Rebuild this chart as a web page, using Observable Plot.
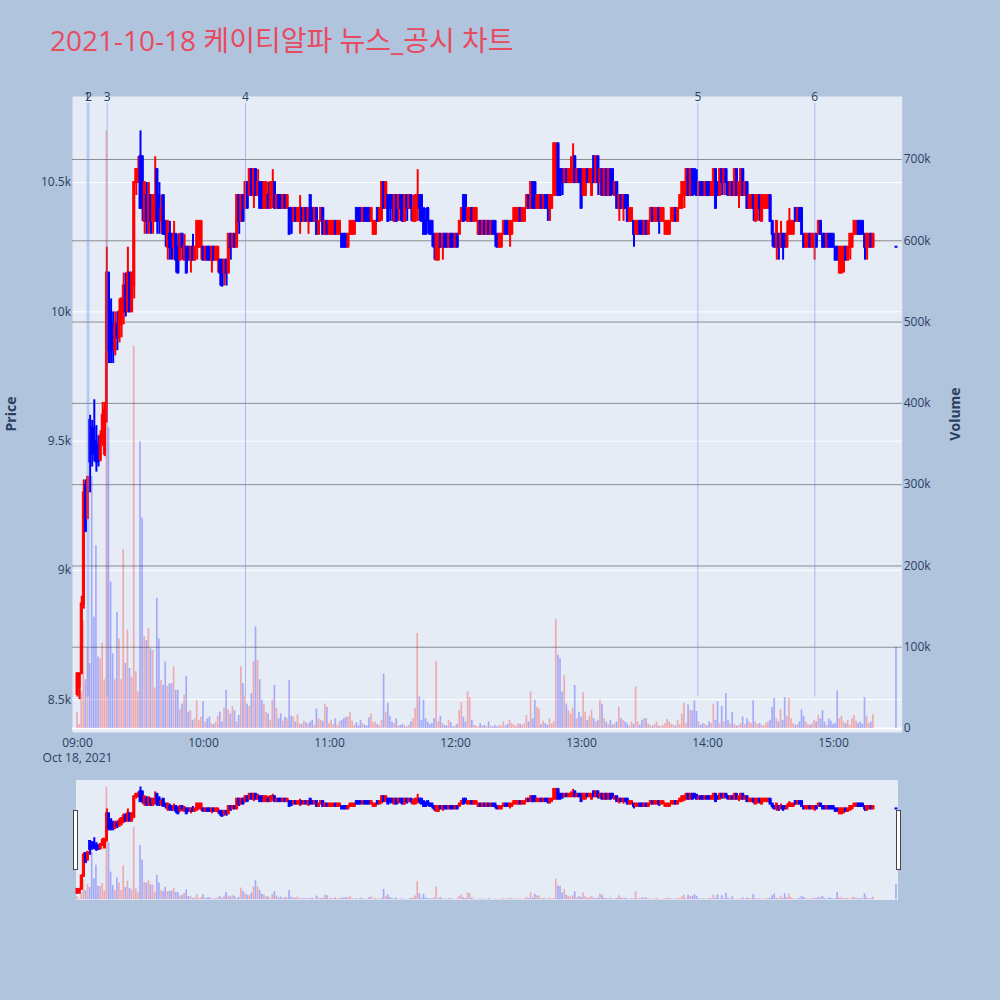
<!DOCTYPE html>
<html><head><meta charset="utf-8">
<script src="https://cdn.jsdelivr.net/npm/d3@7"></script>
<script src="https://cdn.jsdelivr.net/npm/@observablehq/plot@0.6"></script>
<style>
html,body{margin:0;padding:0;background:#b0c4de;}
#wrap{position:relative;width:1000px;height:1000px;background:#b0c4de;font-family:"Open Sans","Noto Sans CJK KR",sans-serif;overflow:hidden}
#wrap svg{position:absolute;left:0;}
.title{position:absolute;left:50px;top:22px;font-size:28px;line-height:36px;color:#e84a5f;white-space:nowrap}
.ytitle{position:absolute;font-weight:bold;font-size:14px;color:#2a3f5f;white-space:nowrap;transform:translate(-50%,-50%) rotate(-90deg);}
.rsbg{position:absolute;left:76px;top:780px;width:822px;height:120px;background:#e5ecf6}
.handle{position:absolute;top:810px;width:3px;height:58px;background:#fff;border:1px solid #444;}
</style></head>
<body><div id="wrap">
<div class="title">2021-10-18 케이티알파 뉴스_공시 차트</div>
<div class="rsbg"></div>
</div>
<script>
// ---------------- DATA ----------------
const tradeDate = "2021-10-18";
const firstMinute = "09:00";          // one candle per minute from here
const open = [
8520,8550,8600,8870,9330,9200,9580,9550,9550,9500,9480,9430,9500,9450,9620,10150,10000,9950,9850,9950,
9900,9950,10000,10100,10000,10150,10000,10100,10500,10500,10600,10600,10350,10450,10350,10450,10350,10350,10550,10450,
10350,10450,10350,10250,10300,10300,10250,10300,10250,10200,10300,10200,10250,10250,10200,10250,10200,10250,10250,10250,
10250,10200,10250,10250,10200,10250,10200,10200,10200,10200,10150,10200,10150,10300,10250,10300,10250,10450,10350,10450,
10400,10500,10450,10550,10450,10550,10450,10500,10500,10400,10400,10450,10400,10450,10500,10400,10450,10450,10400,10450,
10400,10400,10400,10350,10400,10350,10350,10400,10350,10400,10350,10450,10400,10350,10400,10300,10350,10400,10300,10350,
10300,10300,10300,10350,10300,10300,10300,10300,10300,10250,10300,10300,10300,10400,10400,10400,10350,10400,10400,10400,
10350,10300,10300,10400,10350,10400,10500,10400,10450,10450,10450,10350,10450,10400,10450,10450,10350,10450,10400,10450,
10350,10350,10400,10450,10450,10400,10350,10400,10350,10350,10300,10200,10200,10300,10250,10300,10300,10250,10300,10300,
10250,10300,10300,10350,10450,10450,10350,10350,10400,10350,10350,10300,10350,10300,10350,10300,10350,10300,10350,10350,
10300,10250,10250,10300,10350,10350,10300,10300,10350,10350,10350,10400,10350,10350,10400,10450,10400,10500,10500,10400,
10400,10450,10400,10450,10450,10400,10400,10450,10450,10650,10550,10550,10500,10550,10500,10500,10500,10600,10500,10550,
10550,10450,10450,10550,10500,10450,10600,10500,10600,10500,10550,10450,10550,10450,10550,10550,10450,10500,10400,10450,
10400,10450,10450,10350,10350,10350,10300,10300,10350,10350,10300,10350,10300,10350,10400,10350,10350,10400,10350,10350,
10300,10300,10300,10350,10350,10400,10350,10400,10400,10450,10450,10550,10450,10550,10550,10500,10450,10500,10500,10450,
10500,10500,10450,10450,10550,10500,10450,10550,10500,10550,10500,10450,10500,10450,10550,10450,10450,10550,10450,10500,
10400,10400,10450,10350,10400,10450,10350,10400,10400,10400,10450,10350,10300,10250,10300,10250,10300,10300,10250,10300,
10300,10300,10400,10350,10400,10400,10300,10250,10250,10300,10250,10250,10300,10300,10350,10300,10300,10250,10300,10300,
10300,10250,10250,10150,10150,10200,10250,10200,10250,10250,10300,10300,10350,10350,10350,10300,10250,10250,10300,10250];
const high = [
8600,8600,8900,9350,9350,9360,9600,9580,9660,9560,9520,9540,9650,9650,10250,10150,10050,10000,10000,10000,
10050,10050,10150,10150,10250,10150,10150,10500,10550,10600,10700,10600,10500,10500,10500,10450,10450,10600,10550,10500,
10450,10450,10350,10350,10350,10300,10350,10300,10300,10300,10300,10300,10250,10250,10250,10300,10250,10350,10350,10350,
10250,10250,10250,10250,10250,10250,10250,10250,10200,10200,10200,10200,10300,10300,10300,10300,10450,10450,10450,10450,
10500,10500,10550,10550,10550,10550,10550,10500,10500,10500,10500,10500,10500,10550,10500,10450,10450,10450,10450,10450,
10450,10400,10400,10400,10400,10400,10450,10400,10400,10400,10400,10450,10400,10400,10400,10350,10400,10400,10350,10350,
10350,10350,10350,10350,10350,10350,10300,10300,10300,10300,10350,10350,10350,10400,10400,10400,10400,10400,10400,10400,
10400,10350,10350,10400,10400,10500,10500,10500,10450,10450,10450,10450,10450,10450,10450,10450,10450,10450,10450,10450,
10450,10450,10550,10450,10450,10400,10400,10400,10350,10350,10300,10300,10300,10300,10300,10300,10300,10300,10300,10300,
10300,10300,10350,10400,10450,10450,10400,10400,10400,10400,10400,10350,10350,10350,10350,10350,10350,10350,10350,10350,
10300,10300,10300,10350,10350,10350,10350,10350,10400,10400,10400,10400,10400,10400,10450,10450,10500,10500,10500,10450,
10450,10450,10450,10450,10450,10450,10450,10650,10650,10650,10550,10550,10550,10550,10550,10600,10650,10600,10550,10550,
10550,10550,10550,10550,10550,10550,10600,10600,10600,10550,10550,10550,10550,10550,10550,10550,10500,10500,10450,10450,
10450,10450,10450,10400,10400,10350,10350,10350,10350,10350,10350,10350,10350,10400,10400,10400,10400,10400,10400,10400,
10350,10350,10350,10400,10400,10400,10400,10450,10500,10500,10550,10550,10550,10550,10550,10550,10500,10500,10500,10500,
10500,10500,10500,10550,10550,10500,10550,10550,10550,10550,10500,10500,10500,10550,10550,10500,10550,10550,10500,10500,
10450,10450,10450,10450,10450,10450,10450,10450,10450,10450,10450,10350,10300,10350,10300,10350,10300,10300,10350,10400,
10350,10350,10400,10400,10400,10400,10300,10300,10300,10300,10300,10300,10300,10350,10350,10300,10300,10300,10300,10300,
10300,10250,10250,10250,10250,10250,10250,10250,10300,10300,10350,10350,10350,10350,10350,10300,10300,10300,10300,10300];
const low = [
8510,8500,8600,8850,9150,9200,9300,9400,9420,9380,9400,9420,9480,9440,9570,9800,9800,9800,9830,9850,
9880,9900,9950,9980,10000,10000,10000,10050,10450,10500,10400,10350,10300,10300,10300,10300,10300,10350,10300,10300,
10300,10300,10250,10200,10200,10200,10200,10150,10150,10200,10200,10200,10150,10200,10150,10200,10200,10200,10250,10200,
10200,10200,10200,10200,10150,10200,10200,10150,10100,10100,10100,10100,10150,10200,10250,10250,10250,10300,10350,10350,
10400,10400,10450,10450,10400,10450,10450,10400,10400,10400,10400,10400,10400,10400,10400,10400,10400,10400,10400,10400,
10400,10300,10300,10350,10350,10350,10300,10350,10350,10350,10300,10350,10350,10350,10300,10300,10350,10300,10300,10300,
10300,10300,10300,10300,10300,10300,10250,10250,10250,10250,10300,10300,10300,10350,10350,10350,10350,10350,10350,10350,
10350,10300,10300,10350,10350,10350,10400,10400,10350,10350,10350,10350,10350,10350,10350,10350,10350,10350,10400,10350,
10350,10350,10350,10350,10350,10300,10300,10300,10300,10250,10200,10200,10200,10250,10200,10250,10250,10250,10250,10250,
10250,10250,10300,10350,10350,10350,10350,10350,10350,10350,10350,10300,10300,10300,10300,10300,10300,10300,10300,10250,
10250,10250,10250,10300,10300,10300,10250,10300,10350,10350,10350,10350,10350,10350,10400,10400,10400,10400,10400,10400,
10400,10400,10400,10400,10350,10350,10400,10450,10450,10450,10450,10450,10500,10500,10500,10500,10500,10500,10500,10500,
10400,10450,10450,10500,10500,10450,10500,10500,10450,10450,10450,10450,10450,10450,10450,10450,10450,10400,10350,10400,
10350,10400,10350,10350,10350,10250,10300,10300,10300,10300,10300,10300,10300,10350,10350,10350,10350,10300,10350,10350,
10300,10300,10300,10350,10350,10350,10350,10400,10400,10400,10450,10450,10450,10450,10450,10450,10450,10450,10450,10450,
10450,10450,10450,10450,10400,10450,10450,10450,10450,10450,10450,10450,10450,10450,10450,10400,10450,10450,10450,10400,
10400,10400,10350,10350,10350,10350,10350,10400,10400,10400,10350,10250,10250,10200,10200,10250,10200,10250,10250,10300,
10300,10300,10350,10350,10350,10300,10250,10250,10250,10250,10250,10200,10250,10300,10300,10250,10250,10250,10250,10250,
10250,10200,10200,10150,10150,10150,10200,10200,10200,10250,10300,10300,10300,10300,10300,10200,10200,10250,10250,10250];
const close = [
8600,8600,8870,9300,9150,9360,9420,9450,9450,9420,9420,9520,9600,9620,10150,9850,9850,9850,9950,9900,
10000,10050,10100,10000,10150,10000,10150,10500,10550,10550,10400,10400,10500,10350,10450,10350,10450,10450,10350,10350,
10400,10300,10300,10350,10250,10250,10300,10200,10150,10300,10250,10250,10150,10200,10250,10200,10250,10350,10350,10350,
10200,10250,10200,10200,10250,10200,10250,10250,10150,10100,10200,10150,10300,10250,10300,10250,10450,10350,10450,10350,
10500,10400,10550,10450,10550,10450,10500,10400,10400,10500,10500,10400,10500,10500,10400,10450,10400,10400,10450,10400,
10450,10300,10350,10400,10350,10400,10400,10350,10400,10350,10400,10350,10350,10400,10300,10350,10400,10300,10350,10300,
10350,10350,10350,10300,10350,10350,10250,10250,10250,10300,10350,10350,10350,10350,10350,10350,10400,10350,10350,10350,
10400,10350,10350,10350,10400,10500,10400,10500,10350,10400,10400,10450,10350,10450,10400,10350,10450,10400,10450,10400,
10400,10450,10450,10400,10350,10300,10300,10350,10300,10300,10250,10300,10300,10250,10300,10250,10250,10300,10250,10250,
10300,10250,10350,10400,10350,10400,10400,10400,10350,10400,10400,10350,10300,10350,10300,10350,10300,10350,10300,10300,
10250,10300,10300,10350,10300,10300,10350,10350,10400,10400,10400,10350,10400,10400,10450,10400,10500,10400,10400,10450,
10450,10400,10450,10400,10400,10450,10450,10650,10650,10450,10450,10500,10550,10500,10550,10550,10550,10500,10550,10500,
10400,10550,10550,10500,10550,10550,10500,10600,10500,10550,10450,10550,10450,10550,10450,10500,10500,10400,10450,10400,
10450,10400,10350,10400,10400,10300,10350,10350,10300,10300,10350,10300,10350,10400,10350,10400,10400,10350,10400,10400,
10350,10350,10350,10400,10400,10350,10400,10450,10500,10500,10550,10450,10550,10450,10500,10450,10500,10450,10450,10500,
10450,10450,10500,10550,10400,10450,10550,10500,10550,10500,10450,10500,10450,10550,10450,10500,10550,10450,10500,10400,
10450,10450,10400,10450,10450,10400,10450,10450,10450,10450,10350,10300,10250,10350,10250,10300,10250,10250,10300,10350,
10350,10350,10350,10400,10350,10300,10250,10300,10300,10250,10300,10300,10250,10350,10300,10250,10250,10300,10250,10250,
10250,10200,10200,10250,10250,10250,10200,10250,10300,10300,10350,10350,10300,10300,10300,10250,10300,10300,10250,10300];
const volumeK = [
20,5,45,133,60,100,80,310,137,225,88,86,105,60,735,370,180,92,60,143,
110,60,220,80,121,74,63,470,70,45,353,259,113,108,123,98,96,50,160,110,
59,53,82,52,55,55,76,47,47,23,30,41,64,20,22,10,12,34,10,14,
33,8,12,14,6,5,8,15,20,8,25,47,23,18,27,22,8,16,76,55,
40,30,27,43,82,125,84,60,35,30,20,18,10,35,53,25,12,18,9,14,
12,59,15,14,8,17,6,5,9,7,6,8,10,4,24,12,10,9,30,26,
6,10,5,12,4,8,10,12,14,14,20,9,4,7,3,10,6,4,3,13,
18,7,8,5,3,10,67,20,31,15,8,6,12,3,4,5,3,2,4,8,
12,25,117,39,10,35,12,8,5,6,12,82,8,15,6,4,3,10,7,2,
3,5,22,32,14,8,45,38,10,4,3,2,6,3,4,2,8,3,2,4,
2,4,3,8,3,5,10,6,4,3,6,5,4,6,16,8,45,12,35,26,
24,5,9,6,4,12,5,8,134,90,86,45,65,30,22,18,25,53,12,20,
14,44,20,10,15,22,12,8,10,35,30,12,8,5,10,4,6,8,26,12,
10,8,6,3,8,5,51,8,4,10,12,12,6,4,3,5,8,3,2,4,
6,11,8,5,4,3,10,5,18,31,6,29,22,22,34,21,8,4,6,5,
3,8,6,30,10,33,6,27,8,43,10,6,20,5,3,4,6,14,5,12,
8,6,34,8,5,6,4,3,6,8,10,26,37,12,8,23,10,38,15,37,
12,6,4,5,8,23,15,8,5,4,6,10,8,16,12,22,8,4,12,9,
5,6,46,12,15,8,6,10,4,12,16,9,6,8,5,38,15,6,8,17];
// closing single-price auction
const auctionTime = "15:30";
const auctionPrice = 10250;
const auctionVolumeK = 100;
// news / disclosure markers
const newsLabels = ["1","2","3","4","5","6"];
const newsTimes = ["09:04:37","09:05:23","09:14:08","10:20:00","13:55:24","14:51:06"];
const newsLineLow = 8510, newsLineHigh = 10807;
// axes
const priceTicks = [8500,9000,9500,10000,10500];
const priceTickLabels = ["8.5k","9k","9.5k","10k","10.5k"];
const volumeTicks = [0,100000,200000,300000,400000,500000,600000,700000];
const volumeTickLabels = ["0","100k","200k","300k","400k","500k","600k","700k"];
const timeTicks = ["09:00","10:00","11:00","12:00","13:00","14:00","15:00"];
const dateLabel = "Oct 18, 2021";
const priceDomain = [8373, 10833];
const volumeDomain = [-4900, 777500];
const timeDomain = ["08:57:37","15:32:43"];

// ---------------- BUILD ----------------
const parseT = s => d3.utcParse("%Y-%m-%d %H:%M:%S")(tradeDate + " " + (s.length === 5 ? s + ":00" : s));
const t0 = parseT(firstMinute);
const MIN = 60000;
const candles = close.map((c, i) => ({time: new Date(+t0 + i * MIN), o: open[i], h: high[i], l: low[i], c, v: volumeK[i] * 1000}));
candles.push({time: parseT(auctionTime), o: auctionPrice, h: auctionPrice, l: auctionPrice, c: auctionPrice, v: auctionVolumeK * 1000});
candles.forEach(d => d.col = d.c > d.o ? "#ff0000" : "#0000ff");
const news = newsLabels.map((label, i) => ({label, time: parseT(newsTimes[i])}));
const xDomain = timeDomain.map(parseT);
const xTickDates = timeTicks.map(parseT);
const xLabel = new Map(xTickDates.map((d, i) => [+d, timeTicks[i] + (i === 0 ? "\n" + dateLabel : "")]));
const pLabel = new Map(priceTicks.map((v, i) => [v, priceTickLabels[i]]));
const vLabel = new Map(volumeTicks.map((v, i) => [v, volumeTickLabels[i]]));

const wrap = document.getElementById("wrap");
const FONT = '"Open Sans","Noto Sans CJK KR",sans-serif';
const base = (h, top, bottom) => ({
  width: 1000, height: h, marginLeft: 72, marginRight: 98.3, marginTop: top, marginBottom: bottom,
  x: {type: "utc", domain: xDomain, label: null, axis: null},
  color: {type: "identity"},
  style: {background: "transparent", fontFamily: FONT, fontSize: "12px", color: "#2a3f5f", overflow: "visible"}
});
const add = (svg, top) => { svg.style.top = top + "px"; wrap.appendChild(svg); };
const x1 = d => new Date(+d.time - 0.5 * MIN), x2 = d => new Date(+d.time + 0.5 * MIN);
const bx1 = d => new Date(+d.time - 0.4 * MIN), bx2 = d => new Date(+d.time + 0.4 * MIN);

// Layer A: background, price grid, left & bottom axes
add(Plot.plot({...base(780, 96, 48), y: {domain: priceDomain, label: null, axis: null},
  marks: [
    Plot.frame({fill: "#e5ecf6", stroke: "none"}),
    Plot.gridY(priceTicks, {stroke: "#ffffff", strokeOpacity: 1, strokeWidth: 1}),
    Plot.axisY(priceTicks, {anchor: "left", tickSize: 0, tickPadding: 1.5, tickFormat: d => pLabel.get(d), label: null}),
    Plot.axisX(xTickDates, {anchor: "bottom", tickSize: 0, tickPadding: 3, tickFormat: d => xLabel.get(+d), lineHeight: 1.3, label: null})
  ]}), 0);

// Layer B: volume
add(Plot.plot({...base(780, 96, 48), y: {domain: volumeDomain, label: null, axis: null},
  marks: [
    Plot.gridY(volumeTicks.slice(1), {stroke: "#8c8c8c", strokeOpacity: 1, strokeWidth: 1}),
    Plot.ruleY([0], {stroke: "#ffffff", strokeWidth: 2}),
    Plot.rect(candles, {x1: bx1, x2: bx2, y1: 0, y2: "v", fill: "col", fillOpacity: 0.28}),
    Plot.axisY(volumeTicks, {anchor: "right", tickSize: 0, tickPadding: 1.5, tickFormat: d => vLabel.get(d), label: null})
  ]}), 0);

// Layer C: candles + news
const candleMarks = () => [
  Plot.ruleX(candles, {x: "time", y1: "l", y2: "h", stroke: "col", strokeWidth: 2}),
  Plot.rect(candles, {x1, x2, y1: "o", y2: "c", fill: "col", stroke: "col", strokeWidth: 0.8, insetTop: -0.6, insetBottom: -0.6})
];
add(Plot.plot({...base(780, 96, 48), y: {domain: priceDomain, label: null, axis: null},
  marks: [
    ...candleMarks(),
    Plot.ruleX(news, {x: "time", y1: newsLineLow, y2: newsLineHigh, stroke: "#6f8ff0", strokeOpacity: 0.55, strokeWidth: 1}),
    Plot.text(news, {x: "time", y: newsLineHigh, text: "label", dy: -2, lineAnchor: "bottom", fill: "#2a3f5f", fontSize: 12})
  ]}), 0);

// Range slider (mini)
add(Plot.plot({...base(120, 0, 0), y: {domain: volumeDomain, axis: null},
  marks: [Plot.rect(candles, {x1: bx1, x2: bx2, y1: 0, y2: "v", fill: "col", fillOpacity: 0.28})]}), 780);
add(Plot.plot({...base(120, 0, 0), y: {domain: priceDomain, axis: null},
  marks: candleMarks()}), 780);

// axis titles and slider handles
const mk = (cls, txt, css) => { const e = document.createElement("div"); e.className = cls; if (txt) e.textContent = txt; Object.assign(e.style, css); wrap.appendChild(e); };
mk("ytitle", "Price", {left: "10px", top: "414px"});
mk("ytitle", "Volume", {left: "954px", top: "414px"});
mk("handle", "", {left: "73px"});
mk("handle", "", {left: "896px"});
</script>
</body></html>
